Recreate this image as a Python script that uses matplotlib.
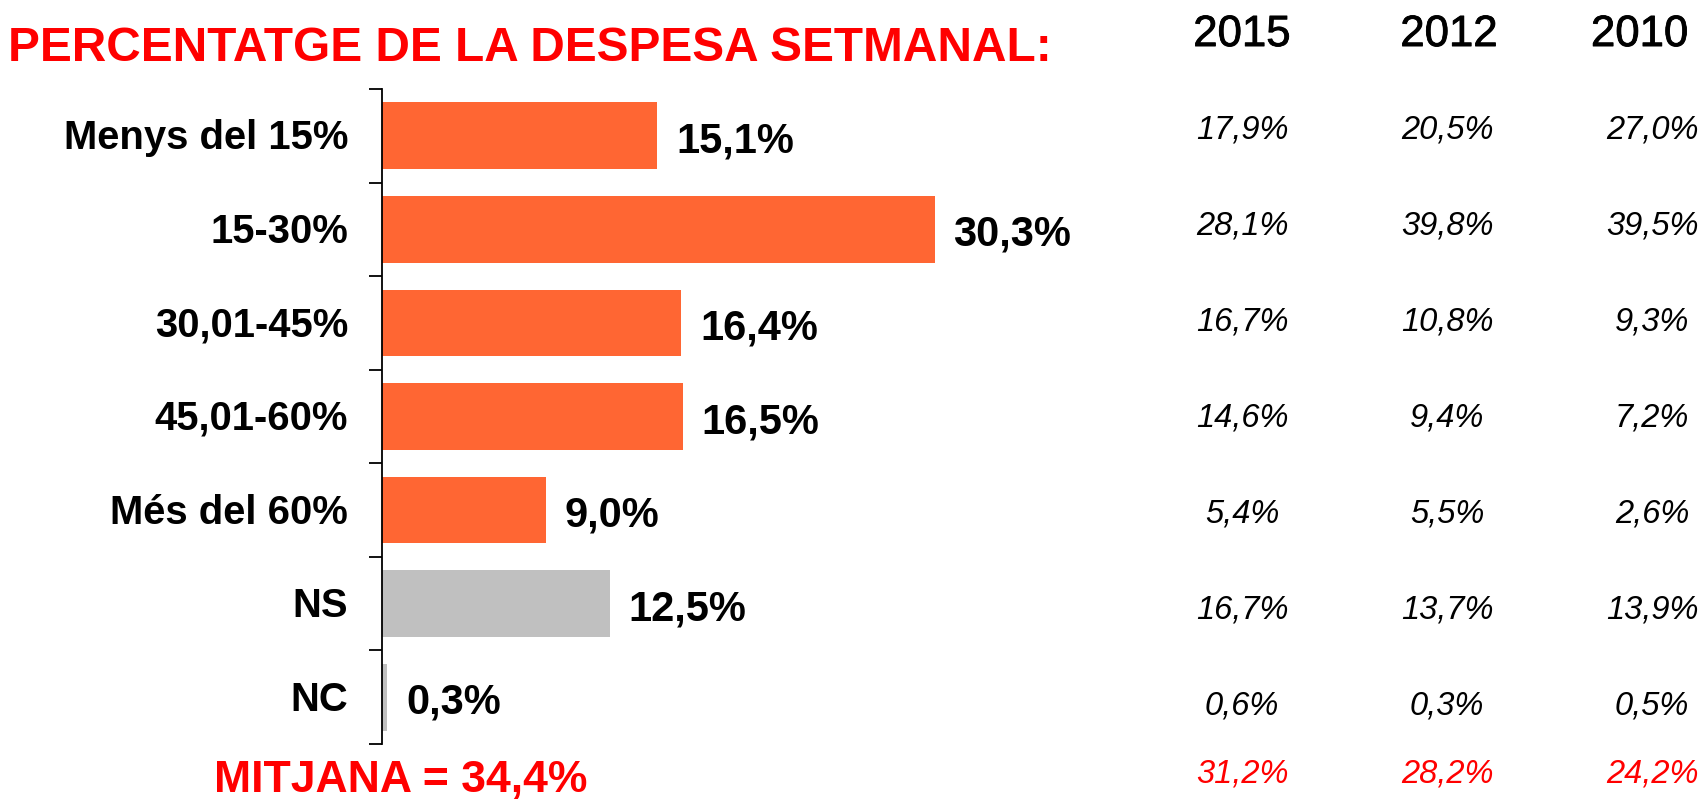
import numpy as np
import matplotlib.pyplot as plt
from matplotlib import transforms
import matplotlib.patheffects as pe

plt.rcParams['font.family'] = ['Liberation Sans', 'DejaVu Sans']

# data
categories = ['Menys del 15%', '15-30%', '30,01-45%', '45,01-60%', 'Més del 60%', 'NS', 'NC']
current = [15.1, 30.3, 16.4, 16.5, 9.0, 12.5, 0.3]
current_mean = 34.4

years = ['2015', '2012', '2010']
prev_2015 = [17.9, 28.1, 16.7, 14.6, 5.4, 16.7, 0.6]
prev_2012 = [20.5, 39.8, 10.8, 9.4, 5.5, 13.7, 0.3]
prev_2010 = [27.0, 39.5, 9.3, 7.2, 2.6, 13.9, 0.5]
prev_means = [31.2, 28.2, 24.2]

ORANGE = '#FF6633'
GREY = '#C0C0C0'
RED = '#FF0000'


def pct(v):
    return '{:.1f}%'.format(v).replace('.', ',')


W, H = 1705, 802
fig = plt.figure(figsize=(W / 100, H / 100), dpi=100)

# bar chart
ax = fig.add_axes([382 / W, 1 - 744 / H, 718 / W, 655 / H])
y = np.arange(len(categories))
colors = [GREY if c in ('NS', 'NC') else ORANGE for c in categories]
ax.barh(y, current, height=0.713, color=colors)
ax.set_ylim(len(categories) - 0.5, -0.5)
ax.set_xlim(0, 718 / 18.24)

for s in ['top', 'right', 'bottom']:
    ax.spines[s].set_visible(False)
ax.spines['left'].set_linewidth(1.3)
ax.set_xticks([])
ax.set_yticks(np.arange(-0.5, len(categories), 1))
ax.tick_params(axis='y', length=9.5, width=1.3, direction='out', labelleft=False)

for i, (c, v) in enumerate(zip(categories, current)):
    ax.annotate(c, xy=(0, i), xycoords=('axes fraction', 'data'),
                xytext=(-24.5, -9.7), textcoords='offset points',
                ha='right', va='baseline', fontsize=28.8, fontweight='bold')
    ax.annotate(pct(v), xy=(v, i), xytext=(13.5, -11.9), textcoords='offset points',
                ha='left', va='baseline', fontsize=30, fontweight='bold')

# title
fig.text(7.5 / W, 1 - 60.7 / H, 'PERCENTATGE DE LA DESPESA SETMANAL:',
         ha='left', va='baseline', fontsize=34.4, fontweight='bold', color=RED)

# comparison table
row_h = 96.1
tax = fig.add_axes([1139.5 / W, 0, 565.5 / W, 1])
tax.set_xlim(-0.5, -0.5 + 565.5 / 205)
tax.set_ylim((H - 138.3) / row_h, -138.3 / row_h)
tax.axis('off')

header_row = -0.96
header_x = [0, 1.01, 1.94]
mean_row = 6.7
thick = [pe.withStroke(linewidth=0.6, foreground='black')]
for j, (yr, col, m) in enumerate(zip(years, [prev_2015, prev_2012, prev_2010], prev_means)):
    tax.text(header_x[j], header_row, yr, ha='center', va='baseline', fontsize=31.5,
             path_effects=thick)
    for i, v in enumerate(col):
        tax.text(j, i, pct(v), ha='center', va='baseline', fontsize=23.5, style='italic')
    tax.text(j, mean_row, pct(m), ha='center', va='baseline', fontsize=23.5,
             style='italic', color=RED)

trans = transforms.blended_transform_factory(fig.transFigure, tax.transData)
fig.text(401 / W, mean_row + 0.1, 'MITJANA = ' + pct(current_mean), transform=trans,
         ha='center', va='baseline', fontsize=32, fontweight='bold', color=RED)

fig.savefig('out.png', dpi=100)
